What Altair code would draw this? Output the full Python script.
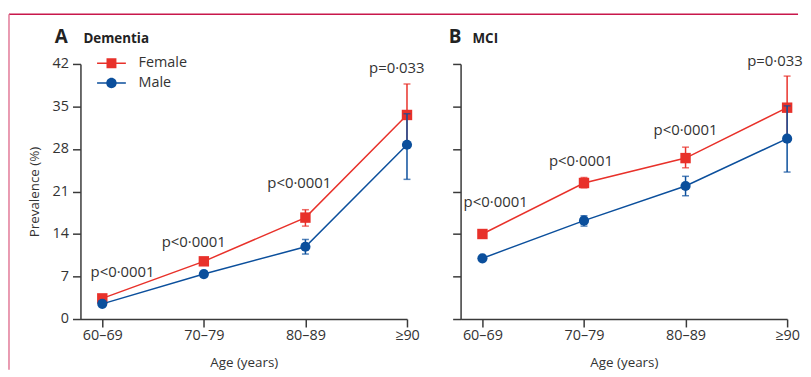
import json
import altair as alt
import pandas as pd

# ---------------- data ----------------
ages = ["60–69", "70–79", "80–89", "≥90"]
genders = ["Female", "Male"]

dem_female = [3.4, 9.5, 16.7, 33.6]
dem_female_lo = [3.0, 9.0, 15.3, 28.6]
dem_female_hi = [3.8, 10.0, 18.0, 38.7]
dem_male = [2.5, 7.4, 11.9, 28.7]
dem_male_lo = [2.2, 7.0, 10.7, 23.0]
dem_male_hi = [2.8, 7.8, 13.1, 33.8]

mci_female = [14.0, 22.4, 26.5, 34.8]
mci_female_lo = [13.7, 21.6, 24.9, 29.8]
mci_female_hi = [14.3, 23.3, 28.3, 40.0]
mci_male = [10.0, 16.2, 21.9, 29.7]
mci_male_lo = [9.7, 15.3, 20.3, 24.2]
mci_male_hi = [10.3, 17.0, 23.5, 35.1]

dem_p = ["p<0·0001", "p<0·0001", "p<0·0001", "p=0·033"]
dem_p_x = [0.2, 0.9, 1.94, 2.9]
dem_p_y = [7.8, 12.7, 22.4, 41.4]
mci_p = ["p<0·0001", "p<0·0001", "p<0·0001", "p=0·033"]
mci_p_x = [0.13, 0.97, 2.0, 2.88]
mci_p_y = [19.3, 26.0, 31.2, 42.5]

y_ticks = [0, 7, 14, 21, 28, 35, 42]

# ---------------- style ----------------
FONT = "Open Sans"
TEXT = "#333333"
AXIS = "#3a3a3a"
RED = "#e8312a"
BLUE = "#0b4f9c"
W, H = 329, 257

labelexpr = json.dumps(ages, ensure_ascii=False) + "[datum.value]"
xscale = alt.Scale(domain=[-0.215, 3], nice=False, zero=False)
yscale = alt.Scale(domain=[0, 42], nice=False, zero=True)

xaxis = alt.Axis(values=[0, 1, 2, 3], labelExpr=labelexpr, title="Age (years)",
                 tickSize=8, tickWidth=1.5, domainWidth=1.5, domainColor=AXIS, tickColor=AXIS,
                 labelFont=FONT, labelFontSize=14.5, labelColor=TEXT, labelPadding=2,
                 titleFont=FONT, titleFontSize=13.5, titleFontWeight="normal", titleColor=TEXT,
                 titlePadding=13, grid=False, labelFlush=False)


def yaxis(show):
    kw = dict(values=y_ticks, tickSize=8, tickWidth=1.5, domainWidth=1.5, domainColor=AXIS,
              tickColor=AXIS, grid=False, labels=show)
    if show:
        kw.update(title="Prevalence (%)", labelFont=FONT, labelFontSize=14.5, labelColor=TEXT,
                  labelPadding=4, titleFont=FONT, titleFontSize=13.5, titleFontWeight="normal",
                  titleColor=TEXT, titlePadding=11)
    else:
        kw.update(title=None)
    return alt.Axis(**kw)


# legend symbols: line through marker
SQ = "M-2.9,-0.15H2.9V0.15H-2.9ZM-1,-1H1V1H-1Z"
CI = "M-2.9,-0.15H2.9V0.15H-2.9ZM1.05,0A1.05,1.05,0,1,1,-1.05,0A1.05,1.05,0,1,1,1.05,0Z"

legend_kw = dict(title=None, orient="none", legendX=24, legendY=-8, padding=0,
                 symbolSize=100, symbolStrokeWidth=0, labelFont=FONT, labelFontSize=14.5,
                 labelColor=TEXT, labelOffset=20, rowPadding=5)


def make_panel(letter, name, f, flo, fhi, m, mlo, mhi, ptext, px, py, first,
               letter_dx, name_dx):
    rows = []
    for g, v, lo, hi in (("Female", f, flo, fhi), ("Male", m, mlo, mhi)):
        for i in range(len(ages)):
            rows.append({"i": i, "gender": g, "v": v[i], "lo": lo[i], "hi": hi[i]})
    df = pd.DataFrame(rows)
    base = alt.Chart(df)
    ya = yaxis(first)
    X = alt.X("i:Q", scale=xscale, axis=xaxis)
    cscale = alt.Scale(domain=genders, range=[RED, BLUE])
    leg = alt.Legend(**legend_kw) if first else None

    layers = []
    for g, col, shape, size in (("Female", RED, "square", 110), ("Male", BLUE, "circle", 105)):
        sub = base.transform_filter(alt.datum.gender == g)
        rule = sub.mark_rule(color=col, strokeWidth=1.5).encode(
            x=X, y=alt.Y("lo:Q", scale=yscale, axis=ya), y2="hi:Q")
        cap_lo = sub.mark_tick(color=col, orient="horizontal", size=7, thickness=1.5).encode(
            x=X, y=alt.Y("lo:Q", scale=yscale, axis=ya))
        cap_hi = sub.mark_tick(color=col, orient="horizontal", size=7, thickness=1.5).encode(
            x=X, y=alt.Y("hi:Q", scale=yscale, axis=ya))
        line = sub.mark_line(color=col, strokeWidth=1.5).encode(
            x=X, y=alt.Y("v:Q", scale=yscale, axis=ya))
        pts = sub.mark_point(filled=True, shape=shape, size=size, opacity=1).encode(
            x=X, y=alt.Y("v:Q", scale=yscale, axis=ya),
            color=alt.Color("gender:N", scale=cscale, legend=leg))
        layers += [rule, cap_lo, cap_hi, line, pts]

    if first:
        # legend carrier: draws no marks, only provides the merged color+shape legend
        carrier = base.transform_filter("false").mark_point(filled=True, opacity=1).encode(
            x=X, y=alt.Y("v:Q", scale=yscale, axis=ya),
            color=alt.Color("gender:N", scale=cscale, legend=alt.Legend(**legend_kw)),
            shape=alt.Shape("gender:N", scale=alt.Scale(domain=genders, range=[SQ, CI]),
                            legend=alt.Legend(**legend_kw)))
        layers.append(carrier)

    pdf = pd.DataFrame({"label": ptext, "px": px, "py": py})
    ptxt = alt.Chart(pdf).mark_text(font=FONT, fontSize=15, color=TEXT, align="center",
                                    baseline="middle").encode(
        x=alt.X("px:Q", scale=xscale, axis=xaxis),
        y=alt.Y("py:Q", scale=yscale, axis=ya), text="label:N")
    layers.append(ptxt)

    tdf = pd.DataFrame({"a": [letter], "b": [name]})
    t1 = alt.Chart(tdf).mark_text(font=FONT, fontSize=19, fontWeight="bold", color="#222222",
                                  align="left", baseline="alphabetic").encode(
        x=alt.value(letter_dx), y=alt.value(-21), text="a:N")
    t2 = alt.Chart(tdf).mark_text(font=FONT, fontSize=13.5, fontWeight="bold", color="#222222",
                                  align="left", baseline="alphabetic").encode(
        x=alt.value(name_dx), y=alt.value(-21), text="b:N")
    layers += [t1, t2]

    if first:
        frame_top = alt.Chart(tdf).mark_rule(color="#c8174b", strokeWidth=1.5).encode(
            x=alt.value(-72), x2=alt.value(723), y=alt.value(-50))
        frame_left = alt.Chart(tdf).mark_rule(color="#e27a98", strokeWidth=1.5).encode(
            x=alt.value(-72), y=alt.value(-50), y2=alt.value(308))
        layers = [frame_top, frame_left] + layers

    return alt.layer(*layers).properties(width=W, height=H)


pa = make_panel("A", "Dementia", dem_female, dem_female_lo, dem_female_hi,
                dem_male, dem_male_lo, dem_male_hi, dem_p, dem_p_x, dem_p_y, True, -26, 3)
pb = make_panel("B", "MCI", mci_female, mci_female_lo, mci_female_hi,
                mci_male, mci_male_lo, mci_male_hi, mci_p, mci_p_x, mci_p_y, False, -12, 12)

chart = alt.hconcat(pa, pb, spacing=54, bounds="flush").resolve_scale(
    color="independent", shape="independent").resolve_legend(
    color="independent", shape="independent").properties(
    padding={"left": 0, "top": 4, "right": 0, "bottom": 0},
    background="white",
).configure_view(stroke=None)

chart.save("out.html", embed_options={"renderer": "svg", "actions": False})
